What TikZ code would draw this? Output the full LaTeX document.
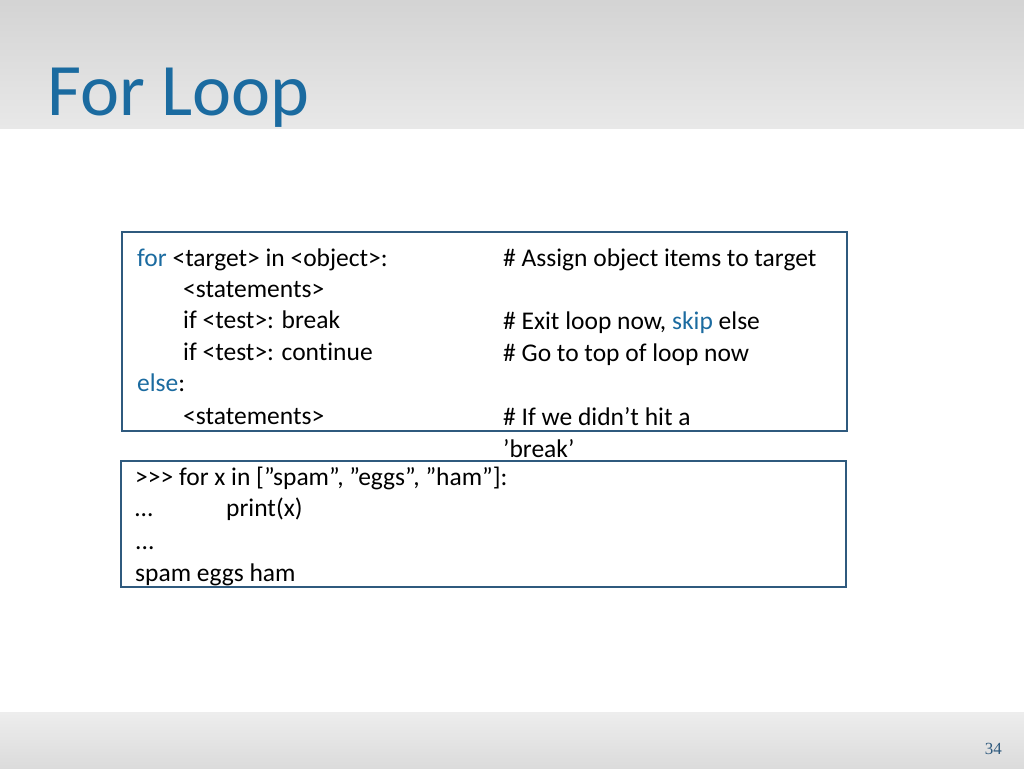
\documentclass[tikz,border=0pt]{standalone}
\usepackage{fontspec}
\defaultfontfeatures{}
\setmainfont{Carlito}[Ligatures=NoCommon]
\newfontfamily\numfont{Liberation Serif}
\definecolor{tblue}{HTML}{1B6BA0}
\definecolor{bord}{HTML}{2F5A7E}
\newcommand{\dq}{\symbol{34}}
\newcommand{\sq}{\symbol{39}}
\begin{document}
\begin{tikzpicture}[x=1pt,y=-1pt,
  t/.style={anchor=base west,inner sep=0pt,font=\fontsize{25.5}{29}\selectfont},
  box/.style={draw=bord,line width=1.5pt}]
\useasboundingbox (0,0) rectangle (1024,768);
\fill[white] (0,0) rectangle (1024,768);
\shade[top color=black!17,bottom color=black!9] (0,0) rectangle (1024,128);
\shade[top color=black!7,bottom color=black!14] (0,712) rectangle (1024,768);
\node[anchor=base west,inner sep=0pt,text=tblue,font=\fontsize{74}{78}\selectfont] (title) at (47,115) {For Loop};
\draw[box] (122,232) rectangle (847,431);
\draw[box] (121,461) rectangle (846,587);
\node[t] (l1) at (137,266) {\textcolor{tblue}{for} <target> in <object>:};
\node[t] (l2) at (183,297) {<statements>};
\node[t] (l3) at (183,328) {if <test>: break};
\node[t] (l4) at (183,360) {if <test>: continue};
\node[t] (l5) at (137,391) {\textcolor{tblue}{else}:};
\node[t] (l6) at (183,424) {<statements>};
\node[t] (c1) at (503,266) {\# Assign object items to target};
\node[t] (c3) at (503,329) {\# Exit loop now, \textcolor{tblue}{skip} else};
\node[t] (c4) at (503,361) {\# Go to top of loop now};
\node[t] (c6) at (503,425) {\# If we didn\sq t hit a};
\node[t] (c7) at (503,457) {\sq break\sq};
\node[t] (m1) at (135,485) {>{}>{}> for x in [\dq spam\dq, \dq eggs\dq, \dq ham\dq]:};
\node[t] (m2) at (135,516) {…};
\node[t] (m2b) at (226,516) {print(x)};
\node[t] (m3) at (135,549) {...};
\node[t] (m4) at (135,581) {spam eggs ham};
\node[anchor=base east,inner sep=0pt,text=bord,font=\numfont\fontsize{17}{20}\selectfont] (pg) at (1002,754) {34};
\end{tikzpicture}
\end{document}
